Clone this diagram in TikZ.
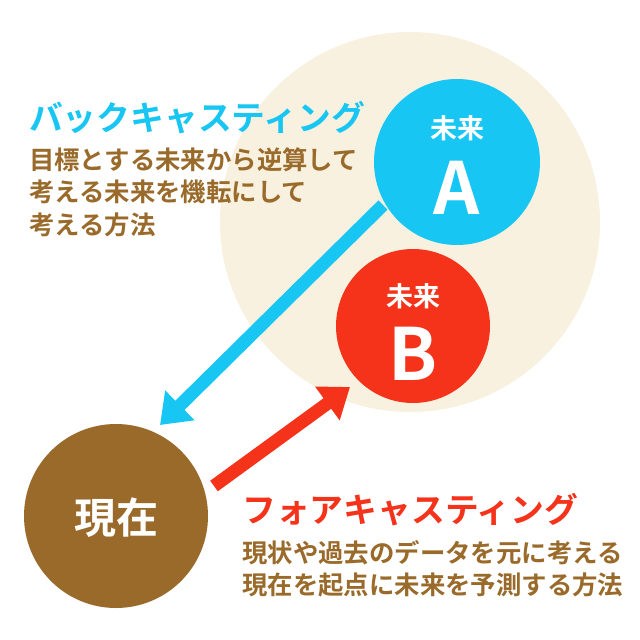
\documentclass[tikz,border=0pt]{standalone}
\usepackage{fontspec}
\setmainfont{Noto Sans CJK JP}[BoldFont={* Bold}]
\usetikzlibrary{arrows.meta}
\definecolor{skyblue}{HTML}{17C6F2}
\definecolor{futred}{HTML}{F5321A}
\definecolor{nowbrown}{HTML}{9A6A2A}
\definecolor{beige}{HTML}{F8F1DF}
\tikzset{
 ball/.style={circle,inner sep=0pt,text=white,font=\bfseries},
 head/.style={anchor=west,inner sep=0pt,font=\bfseries\fontsize{33.8}{36}\selectfont},
 body/.style={anchor=west,inner sep=0pt,text=nowbrown,align=left,
   font=\bfseries\fontsize{25.4}{32.5}\selectfont},
 fat/.style={line width=13pt,-{Triangle[width=40pt,length=28pt]}}
}
\begin{document}
\begin{tikzpicture}[x=1pt,y=-1pt]
 \useasboundingbox (0,0) rectangle (640,640);
 \fill[white] (0,0) rectangle (640,640);
 \fill[beige] (410,222) circle (190);
 % circles
 \node[ball,fill=skyblue,minimum size=166pt] (futA) at (457,162) {};
 \node[ball,fill=futred,minimum size=154pt] (futB) at (413,326) {};
 \node[ball,fill=nowbrown,minimum size=184pt] (now) at (116,516) {};
 \node[text=white,font=\bfseries\fontsize{27}{27}\selectfont] (labA) at (457,128) {未来};
 \node[text=white,font=\bfseries\fontsize{72}{72}\selectfont] (letA) at (457,188) {A};
 \node[text=white,font=\bfseries\fontsize{27}{27}\selectfont] (labB) at (413,296) {未来};
 \node[text=white,font=\bfseries\fontsize{72}{72}\selectfont] (letB) at (413,354) {B};
 \node[text=white,font=\bfseries\fontsize{42}{42}\selectfont] (labNow) at (116,518) {現在};
 % arrows
 \coordinate (bcFrom) at (383,205);
 \coordinate (bcTo) at (160,425);
 \coordinate (fcFrom) at (214,486);
 \coordinate (fcTo) at (350,387);
 \draw[fat,skyblue] (bcFrom) -- (bcTo);
 \draw[fat,futred] (fcFrom) -- (fcTo);
 % texts
 \node[head,text=skyblue] (backTitle) at (29,118) {バックキャスティング};
 \node[body] (backText) at (29,192) {目標とする未来から逆算して\\考える未来を機転にして\\考える方法};
 \node[head,text=futred] (foreTitle) at (242,510) {フォアキャスティング};
 \node[body] (foreText) at (242,569) {現状や過去のデータを元に考える\\現在を起点に未来を予測する方法};
\end{tikzpicture}
\end{document}
